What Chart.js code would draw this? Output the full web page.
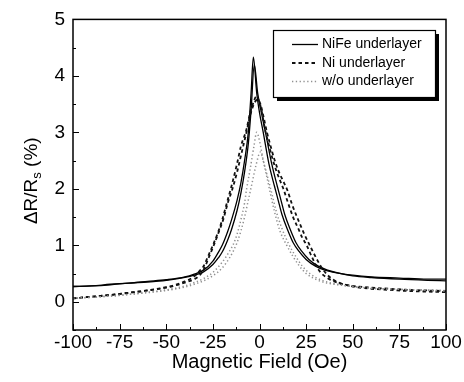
<!DOCTYPE html>
<html>
<head>
<meta charset="utf-8">
<script src="https://cdn.jsdelivr.net/npm/chart.js@4"></script>
<style>
html,body{margin:0;padding:0;background:#fff;}
#wrap{width:464px;height:382px;}
</style>
</head>
<body>
<div id="wrap"><canvas id="c" width="464" height="382"></canvas></div>
<script>
// ---- data ----
const seriesNames = ["NiFe underlayer", "Ni underlayer", "w/o underlayer"];
const xTicks = [-100, -75, -50, -25, 0, 25, 50, 75, 100];
const yTicks = [0, 1, 2, 3, 4, 5];

// NiFe underlayer, branch 1
const nifeX1 = [-100,-90,-80,-70,-60,-50,-40,-35,-30,-25,-22,-20,-17,-15,-12,-10,-8,-6,-4.5,-3.3,-1.5,0,2,5,8,10,12,15,18,21,25,30,35,40,50,60,75,90,100];
const nifeY1 = [0.27,0.28,0.31,0.33,0.36,0.39,0.44,0.49,0.56,0.72,0.88,1.0,1.25,1.45,1.8,2.1,2.5,3.0,3.7,4.33,3.7,3.35,3.0,2.45,2.05,1.8,1.55,1.28,1.05,0.9,0.75,0.63,0.56,0.52,0.47,0.44,0.42,0.40,0.40];
// NiFe underlayer, branch 2
const nifeX2 = [-100,-90,-80,-70,-60,-50,-40,-35,-30,-25,-22,-20,-17,-15,-12,-10,-8,-6,-4.5,-2.8,-1,1,3.5,6.5,9.5,11.5,13.5,16.5,19.5,22.5,26.5,31.5,36.5,42,50,60,75,90,100];
const nifeY2 = [0.27,0.28,0.30,0.33,0.35,0.38,0.43,0.47,0.53,0.66,0.78,0.88,1.1,1.28,1.62,1.92,2.3,2.8,3.4,4.2,3.7,3.35,2.95,2.45,2.05,1.8,1.55,1.28,1.05,0.9,0.75,0.63,0.56,0.51,0.46,0.43,0.40,0.38,0.37];

// Ni underlayer, branch 1
const niX1 = [-100,-90,-80,-70,-60,-50,-45,-40,-35,-32,-30,-27,-25,-22,-20,-17.5,-15,-12,-10,-7,-5,-3,-1.9,-0.5,1,3,5,7,9,11,12.8,15,18,21,23,25.3,28,31,33.3,36,40,45,50,60,70,80,90,100];
const niY1 = [0.06,0.09,0.12,0.16,0.20,0.26,0.30,0.36,0.45,0.55,0.63,0.85,1.0,1.25,1.45,1.75,2.05,2.45,2.75,3.05,3.35,3.55,3.63,3.58,3.4,3.05,2.78,2.53,2.32,2.15,2.0,1.78,1.5,1.28,1.13,1.0,0.8,0.6,0.5,0.43,0.36,0.31,0.28,0.25,0.23,0.21,0.20,0.19];
// Ni underlayer, branch 2
const niX2 = [-100,-90,-80,-70,-60,-50,-45,-40,-35,-32,-29.5,-27,-24.5,-22,-19.5,-17,-14.5,-12,-9.5,-7,-5,-3,-1,0.5,2,4,6,8,10,12.5,15,17.5,20.5,24,28,30.5,33,36,40,45,50,60,70,80,90,100];
const niY2 = [0.06,0.09,0.12,0.16,0.20,0.25,0.29,0.34,0.40,0.47,0.6,0.8,1.0,1.22,1.45,1.75,2.0,2.3,2.65,3.0,3.3,3.5,3.58,3.5,3.3,3.0,2.75,2.52,2.33,2.15,1.97,1.72,1.47,1.2,0.93,0.77,0.62,0.49,0.38,0.31,0.27,0.23,0.21,0.19,0.18,0.17];

// w/o underlayer, branch 1
const woX1 = [-100,-90,-80,-70,-60,-50,-45,-40,-35,-30,-25,-20,-16,-14,-12,-10,-8,-6.9,-5,-3,-1.5,0,2,4,5.3,8,11,14.6,18,21,25,30,35,40,50,60,75,90,100];
const woY1 = [0.06,0.08,0.10,0.13,0.17,0.21,0.24,0.28,0.34,0.41,0.52,0.7,0.9,1.02,1.2,1.45,1.75,2.0,2.35,2.75,3.0,2.85,2.5,2.2,2.0,1.6,1.25,1.0,0.8,0.65,0.5,0.4,0.34,0.31,0.27,0.24,0.22,0.21,0.20];
// w/o underlayer, branch 2
const woX2 = [-100,-90,-80,-70,-60,-50,-40,-35,-30,-25,-20,-16,-14,-12,-10,-8,-6,-4,-2,0.5,2,4,6,9,12,16,19.5,23,27,32,40,50,60,75,90,100];
const woY2 = [0.06,0.08,0.10,0.13,0.16,0.20,0.26,0.31,0.37,0.46,0.6,0.78,0.9,1.05,1.25,1.5,1.8,2.1,2.4,2.65,2.5,2.25,2.0,1.6,1.3,1.0,0.8,0.63,0.5,0.4,0.32,0.27,0.24,0.22,0.20,0.19];

// ---- styles ----
const FONT = '"Liberation Sans", Arial, Helvetica, sans-serif';
const styles = [
  {color:'#000', width:1.3, dash:[]},
  {color:'#111', width:1.8, dash:[3.5,3]},
  {color:'#909090', width:1.5, dash:[1.3,2.5]}
];

function pts(xs, ys){ return xs.map((x,i)=>({x:x, y:ys[i]})); }
function ds(label, xs, ys, s){
  return {label:label, data:pts(xs,ys), showLine:true, pointRadius:0,
    borderColor:s.color, borderWidth:s.width, borderDash:s.dash,
    cubicInterpolationMode:'monotone', fill:false};
}

const datasets = [
  ds(seriesNames[2], woX1, woY1, styles[2]),
  ds(seriesNames[2], woX2, woY2, styles[2]),
  ds(seriesNames[1], niX1, niY1, styles[1]),
  ds(seriesNames[1], niX2, niY2, styles[1]),
  ds(seriesNames[0], nifeX1, nifeY1, styles[0]),
  ds(seriesNames[0], nifeX2, nifeY2, styles[0])
];

const decor = {
  id:'decor',
  afterDraw(chart){
    const ctx = chart.ctx, a = chart.chartArea;
    const xs = chart.scales.x, ys = chart.scales.y;
    ctx.save();
    // frame
    ctx.strokeStyle = '#000'; ctx.lineWidth = 1.5; ctx.setLineDash([]);
    ctx.strokeRect(a.left, a.top, a.right - a.left, a.bottom - a.top);
    // inward ticks
    ctx.lineWidth = 1;
    ctx.beginPath();
    for (let v = -100; v <= 100; v += 12.5) {
      const px = Math.round(xs.getPixelForValue(v)) + 0.5;
      const len = (v % 25 === 0) ? 6 : 3;
      ctx.moveTo(px, a.bottom); ctx.lineTo(px, a.bottom - len);
    }
    for (let v = -0.5; v <= 5; v += 0.5) {
      const py = Math.round(ys.getPixelForValue(v)) + 0.5;
      const len = (Math.abs(v - Math.round(v)) < 1e-6) ? 6 : 3;
      ctx.moveTo(a.left, py); ctx.lineTo(a.left + len, py);
    }
    ctx.stroke();

    // y title with subscript
    ctx.fillStyle = '#000';
    ctx.translate(31, (a.top + a.bottom) / 2 + 6);
    ctx.rotate(-Math.PI / 2);
    const big = '19px ' + FONT, small = '13px ' + FONT;
    const p1 = '\u0394R/R', p2 = 's', p3 = ' (%)';
    ctx.font = big; const w1 = ctx.measureText(p1).width, w3 = ctx.measureText(p3).width;
    ctx.font = small; const w2 = ctx.measureText(p2).width;
    let x0 = -(w1 + w2 + w3) / 2;
    ctx.textBaseline = 'alphabetic'; ctx.textAlign = 'left';
    ctx.font = big; ctx.fillText(p1, x0, 6);
    ctx.font = small; ctx.fillText(p2, x0 + w1, 10);
    ctx.font = big; ctx.fillText(p3, x0 + w1 + w2, 6);
    ctx.restore();

    // legend box
    ctx.save();
    const bx = 273, by = 30, bw = 162, bh = 67;
    ctx.fillStyle = '#000';
    ctx.fillRect(bx + 4, by + 4, bw, bh);
    ctx.fillStyle = '#fff';
    ctx.fillRect(bx, by, bw, bh);
    ctx.strokeStyle = '#000'; ctx.lineWidth = 1.2;
    ctx.strokeRect(bx + 0.5, by + 0.5, bw, bh);
    const rows = [44.5, 63, 81.5];
    ctx.font = '14px ' + FONT;
    ctx.textBaseline = 'middle'; ctx.textAlign = 'left';
    for (let i = 0; i < 3; i++) {
      const s = styles[i];
      ctx.strokeStyle = s.color; ctx.lineWidth = s.width; ctx.setLineDash(s.dash);
      ctx.beginPath(); ctx.moveTo(292, rows[i]); ctx.lineTo(318, rows[i]); ctx.stroke();
      ctx.fillStyle = '#000';
      ctx.fillText(seriesNames[i], 322, rows[i]);
    }
    ctx.restore();
  }
};

new Chart(document.getElementById('c'), {
  type: 'scatter',
  data: {datasets: datasets},
  options: {
    responsive: false,
    animation: false,
    devicePixelRatio: 1,
    layout: {padding: {top: 14, right: 18, left: 0, bottom: 0}},
    plugins: {legend: {display: false}, tooltip: {enabled: false}},
    scales: {
      x: {
        type: 'linear', min: -100, max: 100,
        afterBuildTicks: s => { s.ticks = xTicks.map(v => ({value: v})); },
        afterFit: s => { s.height = 52; },
        grid: {display: false, drawTicks: false},
        border: {display: false},
        ticks: {color: '#000', font: {size: 19, family: FONT}, padding: 1, maxRotation: 0, autoSkip: false},
        title: {display: true, text: 'Magnetic Field (Oe)', color: '#000', font: {size: 20, family: FONT}, padding: {top: 0, bottom: 8}}
      },
      y: {
        type: 'linear', min: -0.5, max: 5,
        afterBuildTicks: s => { s.ticks = yTicks.map(v => ({value: v})); },
        afterFit: s => { s.width = 73; },
        grid: {display: false, drawTicks: false},
        border: {display: false},
        ticks: {color: '#000', font: {size: 19, family: FONT}, padding: 8}
      }
    }
  },
  plugins: [decor]
});
</script>
</body>
</html>
